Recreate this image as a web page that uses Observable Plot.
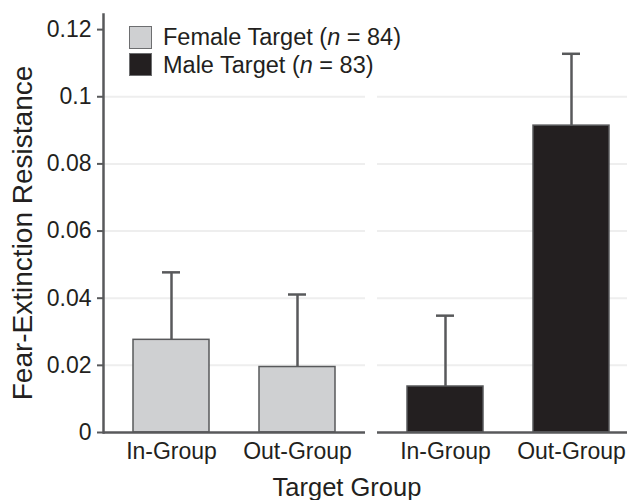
<!DOCTYPE html>
<html>
<head>
<meta charset="utf-8">
<script src="https://cdn.jsdelivr.net/npm/d3@7"></script>
<script src="https://cdn.jsdelivr.net/npm/@observablehq/plot@0.6"></script>
<style>
  html, body { margin: 0; padding: 0; background: #fff; overflow: hidden; }
  #wrap { position: relative; width: 639px; height: 500px; font-family: "Liberation Sans", Arial, sans-serif; color: #231f20; }
  .ov { position: absolute; white-space: nowrap; line-height: 1; }
  .sw { position: absolute; box-sizing: border-box; border: 1.5px solid #6d6e70; }
</style>
</head>
<body>
<div id="wrap"></div>
<script>
// ---- data ----
const targets = ["Female Target", "Female Target", "Male Target", "Male Target"];
const groups = ["In-Group", "Out-Group", "In-Group", "Out-Group"];
const means = [0.0276, 0.0195, 0.0137, 0.0914];
const upperBounds = [0.0477, 0.0411, 0.0348, 0.1128];
const yTicks = [0, 0.02, 0.04, 0.06, 0.08, 0.1, 0.12];
const yTickLabels = ["0", "0.02", "0.04", "0.06", "0.08", "0.1", "0.12"];
const gridTicks = [0.02, 0.04, 0.06, 0.08, 0.1];
const targetDomain = ["Female Target", "Male Target"];
const legendCounts = [84, 83];
const groupDomain = ["In-Group", "Out-Group"];
const yTitle = "Fear-Extinction Resistance";
const xTitle = "Target Group";

const colors = ["#cfd0d2", "#231f20"];
const axisGray = "#58595b";

const data = means.map((m, i) => ({target: targets[i], group: groups[i], mean: m, upper: upperBounds[i]}));
const tickLabel = new Map(yTicks.map((t, i) => [t, yTickLabels[i]]));

const chart = Plot.plot({
  width: 639,
  height: 500,
  marginLeft: 103,
  marginRight: 0,
  marginTop: 14,
  marginBottom: 68,
  style: {fontFamily: "'Liberation Sans', Arial, sans-serif", fontSize: "23px", color: "#231f20", background: "white", maxWidth: "none", overflow: "visible"},
  fx: {domain: targetDomain, paddingInner: 0.044, paddingOuter: 0, axis: null, label: null},
  x: {domain: groupDomain, paddingInner: 0.4, paddingOuter: 0.235, label: null},
  y: {domain: [0, 0.1245]},
  color: {domain: targetDomain, range: colors},
  marks: [
    Plot.gridY(gridTicks, {stroke: "#eeeeee", strokeOpacity: 1, strokeWidth: 2}),
    Plot.barY(data, {fx: "target", x: "group", y: "mean", fill: "target", stroke: axisGray, strokeWidth: 1.5}),
    Plot.ruleX(data, {fx: "target", x: "group", y1: "mean", y2: "upper", stroke: axisGray, strokeWidth: 2.5}),
    Plot.tickY(data, {fx: "target", x: "group", y: "upper", insetLeft: 29, insetRight: 29, stroke: axisGray, strokeWidth: 2.5}),
    Plot.ruleY([0], {stroke: axisGray, strokeWidth: 2.5}),
    Plot.frame({anchor: "left", facetAnchor: "left", stroke: axisGray, strokeWidth: 2.5}),
    Plot.axisY(yTicks, {tickFormat: d => tickLabel.get(d), tickSize: 6, tickPadding: 6, label: null, stroke: axisGray, strokeWidth: 2, fontSize: 23, fill: "#231f20"}),
    Plot.axisX({tickSize: 0, tickPadding: 10, label: null, fontSize: 23, fill: "#231f20"})
  ]
});

const wrap = document.getElementById("wrap");
wrap.appendChild(chart);

// y title
const yt = document.createElement("div");
yt.className = "ov";
yt.textContent = yTitle;
yt.style.fontSize = "28px";
yt.style.left = "23px";
yt.style.top = "233px";
yt.style.transform = "translate(-50%, -50%) rotate(-90deg)";
wrap.appendChild(yt);

// x title
const xt = document.createElement("div");
xt.className = "ov";
xt.textContent = xTitle;
xt.style.fontSize = "25.5px";
xt.style.left = "347px";
xt.style.top = "475px";
xt.style.transform = "translateX(-50%)";
wrap.appendChild(xt);

// legend
targetDomain.forEach((t, i) => {
  const sw = document.createElement("div");
  sw.className = "sw";
  sw.style.left = "129px";
  sw.style.top = (26 + i * 27) + "px";
  sw.style.width = "23px";
  sw.style.height = "23px";
  sw.style.background = colors[i];
  wrap.appendChild(sw);
  const lab = document.createElement("div");
  lab.className = "ov";
  lab.style.fontSize = "23.5px";
  lab.style.left = "163px";
  lab.style.top = (26 + i * 28.3) + "px";
  lab.innerHTML = t + " (<i>n</i> = " + legendCounts[i] + ")";
  wrap.appendChild(lab);
});
</script>
</body>
</html>
